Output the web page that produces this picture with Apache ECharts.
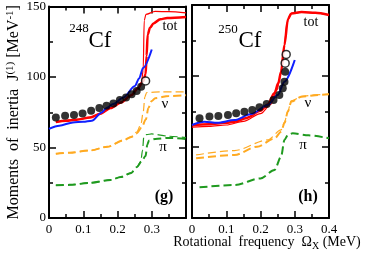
<!DOCTYPE html>
<html><head><meta charset="utf-8">
<script src="https://cdn.jsdelivr.net/npm/echarts@6/dist/echarts.min.js"></script>
<style>html,body{margin:0;padding:0;background:#fff}#c{width:371px;height:258px}</style>
</head><body><div id="c"></div>
<script>
// ---------- tick labels ----------
const yTickValues = [0, 50, 100, 150];
const yTickLabels = ['0', '50', '100', '150'];
const xTickValues = [0, 0.1, 0.2, 0.3, 0.4];
const xTickLabelsLeft = ['0', '0.1', '0.2', '0.3', ''];
const xTickLabelsRight = ['0', '0.1', '0.2', '0.3', '0.4'];

// ---------- panel (g): 248Cf ----------
const exp248 = [[0.020,71.3],[0.047,72.5],[0.073,73.0],[0.098,74.2],[0.123,76.0],[0.147,78.0],[0.168,79.6],[0.188,81.2],[0.207,83.6],[0.225,85.4],[0.241,87.8],[0.256,90.1],[0.269,93.0]];
const exp248Open = [[0.282,97.2]];
const tot248Thick = [[0.02,68],[0.05,69],[0.08,69.7],[0.12,71.3],[0.15,74],[0.18,78],[0.21,82],[0.24,87],[0.26,92],[0.275,97],[0.282,102],[0.285,115],[0.288,130],[0.295,135],[0.305,138],[0.325,141],[0.345,141.8],[0.40,142.5]];
const tot248Thin = [[0.02,68],[0.05,69],[0.08,69.7],[0.12,71.3],[0.15,74],[0.18,78],[0.21,82],[0.24,87],[0.26,92],[0.27,96],[0.275,105],[0.278,140],[0.283,144.4],[0.31,146.5],[0.35,146.3],[0.40,145.5]];
const cal248Blue = [[0,63.2],[0.03,65.5],[0.07,67.8],[0.1,68.2],[0.125,69],[0.154,74.9],[0.168,78],[0.188,80.8],[0.217,85.4],[0.251,93.7],[0.263,99],[0.275,106.5],[0.30,119.5]];
const nu248Thick = [[0.02,45.5],[0.06,46.3],[0.12,47.9],[0.17,50.5],[0.217,55],[0.24,57.5],[0.256,60],[0.27,64],[0.283,70],[0.29,78],[0.30,83],[0.31,85],[0.35,86.5],[0.40,87]];
const nu248Thin = [[0.02,45.5],[0.06,46.3],[0.12,47.9],[0.17,50.5],[0.217,55],[0.24,57.5],[0.256,61],[0.268,66],[0.275,75],[0.28,86],[0.285,89],[0.33,89.5],[0.40,89.5]];
const pi248Thick = [[0.02,23.2],[0.06,23.5],[0.12,24.9],[0.18,27],[0.21,29.1],[0.24,32],[0.256,36],[0.27,40],[0.282,44],[0.287,52],[0.292,55],[0.31,56],[0.35,56.8],[0.40,56]];
const pi248Thin = [[0.02,23.2],[0.06,23.5],[0.12,24.9],[0.18,27],[0.21,29.1],[0.24,32],[0.256,36],[0.268,40],[0.273,48],[0.277,58],[0.285,59.2],[0.30,59.6],[0.35,58],[0.40,57]];

// ---------- panel (h): 250Cf ----------
const exp250 = [[0.022,70.2],[0.051,71.4],[0.077,71.8],[0.105,72.5],[0.129,73.7],[0.153,74.9],[0.176,76.0],[0.197,78.0],[0.218,80.3],[0.238,83.1],[0.255,86.6],[0.265,91.3],[0.270,96.0],[0.272,103.0]];
const exp250Open = [[0.272,109.0],[0.275,115.2]];
const tot250Thick = [[0,65.3],[0.05,66],[0.1,67],[0.124,67.8],[0.16,70.5],[0.2,75.5],[0.221,80],[0.241,88],[0.252,95],[0.26,103],[0.27,122],[0.28,140],[0.29,144],[0.32,145],[0.36,144.5],[0.40,143]];
const tot250Thin = [[0,64],[0.05,64.5],[0.1,65.5],[0.15,68],[0.2,73.5],[0.23,80],[0.248,90],[0.258,100],[0.268,118],[0.278,138],[0.288,144],[0.32,145],[0.36,144.5],[0.40,143]];
const cal250Blue = [[0,65.5],[0.036,67.8],[0.074,67],[0.124,69],[0.173,73.2],[0.221,79.6],[0.25,86.6],[0.27,96],[0.30,111.3]];
const nu250Thick = [[0.012,42],[0.124,44.4],[0.19,50.2],[0.241,56],[0.26,60.8],[0.27,66.7],[0.28,75],[0.29,82],[0.32,85.4],[0.36,86.5],[0.40,87.1]];
const nu250Thin = [[0.012,44.4],[0.124,47.5],[0.221,55],[0.26,62],[0.27,67.5],[0.28,75.5],[0.29,82.5],[0.32,85.6],[0.36,86.7],[0.40,87.2]];
const pi250 = [[0.022,21.6],[0.124,23.2],[0.2,27.9],[0.241,33.8],[0.26,43.2],[0.27,55],[0.28,58.5],[0.294,59.6],[0.34,58.2],[0.40,56.1]];

const SERIF = '"Liberation Serif","DejaVu Serif",serif';
const RED = '#ff0000', BLUE = '#1020ff', ORANGE = '#ffaa22', GREEN = '#1f9a1f';

function lab(values, labels) {
  return function (v) {
    for (let i = 0; i < values.length; i++) if (Math.abs(values[i] - v) < 1e-6) return labels[i];
    return '';
  };
}
function xAx(gi, pos, labels) {
  return {
    type: 'value', gridIndex: gi, position: pos, min: 0, max: 0.4, interval: 0.1,
    axisLine: { show: true, onZero: false, lineStyle: { color: '#000', width: 2 } },
    axisTick: { show: true, inside: true, length: 7, lineStyle: { color: '#000', width: 1.5 } },
    minorTick: { show: true, splitNumber: 2, length: 4, lineStyle: { color: '#000', width: 1.5 } },
    splitLine: { show: false }, minorSplitLine: { show: false },
    axisLabel: labels ? { show: true, margin: 5, fontFamily: SERIF, fontSize: 13, color: '#000', formatter: lab(xTickValues, labels) } : { show: false }
  };
}
function yAx(gi, pos, labels, withName) {
  const a = {
    type: 'value', gridIndex: gi, position: pos, min: 0, max: 150, interval: 50,
    axisLine: { show: true, onZero: false, lineStyle: { color: '#000', width: 2 } },
    axisTick: { show: true, inside: true, length: 7, lineStyle: { color: '#000', width: 1.5 } },
    minorTick: { show: true, splitNumber: 2, length: 4, lineStyle: { color: '#000', width: 1.5 } },
    splitLine: { show: false }, minorSplitLine: { show: false },
    axisLabel: labels ? { show: true, margin: 3, fontFamily: SERIF, fontSize: 13, color: '#000', formatter: lab(yTickValues, labels) } : { show: false }
  };
  if (withName) {
    a.name = '{a|Moments  of  inertia  J}{s|(1)}{a| [MeV}{s|-1}{a|]}';
    a.nameLocation = 'middle';
    a.nameRotate = 90;
    a.nameGap = 27;
    a.nameTextStyle = {
      rich: {
        a: { fontFamily: SERIF, fontSize: 16, color: '#000', verticalAlign: 'bottom', lineHeight: 17 },
        s: { fontFamily: SERIF, fontSize: 11, color: '#000', verticalAlign: 'top', lineHeight: 17 }
      }
    };
  }
  return a;
}
function line(data, xi, color, width, dashed) {
  return {
    type: 'line', xAxisIndex: xi, yAxisIndex: xi, data: data, showSymbol: false,
    smooth: 0.3, smoothMonotone: 'x', silent: true, z: 2,
    lineStyle: { color: color, width: width, type: dashed ? [8, 4] : 'solid', cap: 'butt' }
  };
}
function pts(data, xi, open) {
  return {
    type: 'scatter', xAxisIndex: xi, yAxisIndex: xi, data: data, symbol: 'circle', symbolSize: 8, z: 5,
    itemStyle: open ? { color: '#fff', borderColor: '#000', borderWidth: 1.5 } : { color: '#000' }
  };
}
function txt(x, y, s, size, bold) {
  return {
    type: 'text', x: x, y: y, z: 10,
    style: { text: s, fontFamily: SERIF, fontSize: size, fontWeight: bold ? 'bold' : 'normal', fill: '#000', align: 'center', verticalAlign: 'middle' }
  };
}

const chart = echarts.init(document.getElementById('c'), null, { renderer: 'canvas' });
chart.setOption({
  animation: false,
  backgroundColor: '#fff',
  grid: [
    { left: 49, top: 5, width: 137, height: 213 },
    { left: 192, top: 5, width: 137, height: 213 }
  ],
  xAxis: [xAx(0, 'bottom', xTickLabelsLeft), xAx(1, 'bottom', xTickLabelsRight), xAx(0, 'top', null), xAx(1, 'top', null)],
  yAxis: [yAx(0, 'left', yTickLabels, true), yAx(1, 'left', null, false), yAx(0, 'right', null, false), yAx(1, 'right', null, false)],
  series: [
    line(pi248Thin, 0, GREEN, 1.2, true),
    line(pi248Thick, 0, GREEN, 2, true),
    line(nu248Thin, 0, ORANGE, 1.2, true),
    line(nu248Thick, 0, ORANGE, 2, true),
    line(tot248Thin, 0, RED, 1.2, false),
    line(tot248Thick, 0, RED, 2.5, false),
    line(cal248Blue, 0, BLUE, 2, false),
    pts(exp248, 0, false),
    pts(exp248Open, 0, true),

    line(pi250, 1, GREEN, 2, true),
    line(nu250Thin, 1, ORANGE, 1.2, true),
    line(nu250Thick, 1, ORANGE, 2, true),
    line(tot250Thin, 1, RED, 1.2, false),
    line(tot250Thick, 1, RED, 2.5, false),
    line(cal250Blue, 1, BLUE, 2, false),
    pts(exp250, 1, false),
    pts(exp250Open, 1, true)
  ],
  graphic: [
    txt(79, 29, '248', 13),
    txt(100, 41, 'Cf', 23),
    txt(228, 30, '250', 13),
    txt(250, 41, 'Cf', 23),
    txt(170, 26, 'tot', 14),
    txt(311, 22, 'tot', 14),
    txt(165, 104, 'ν', 15),
    txt(308, 103, 'ν', 15),
    txt(163, 147, 'π', 15),
    txt(303, 145, 'π', 15),
    txt(164, 197, '(g)', 16, true),
    txt(308, 197, '(h)', 16, true),
    {
      type: 'text', x: 267, y: 242, z: 10,
      style: {
        text: '{a|Rotational  frequency  Ω}{s|X}{a| (MeV)}',
        align: 'center', verticalAlign: 'middle',
        rich: {
          a: { fontFamily: SERIF, fontSize: 14, fill: '#000', color: '#000' },
          s: { fontFamily: SERIF, fontSize: 10, fill: '#000', color: '#000', padding: [8, 0, 0, 0] }
        }
      }
    }
  ]
});
</script></body></html>
